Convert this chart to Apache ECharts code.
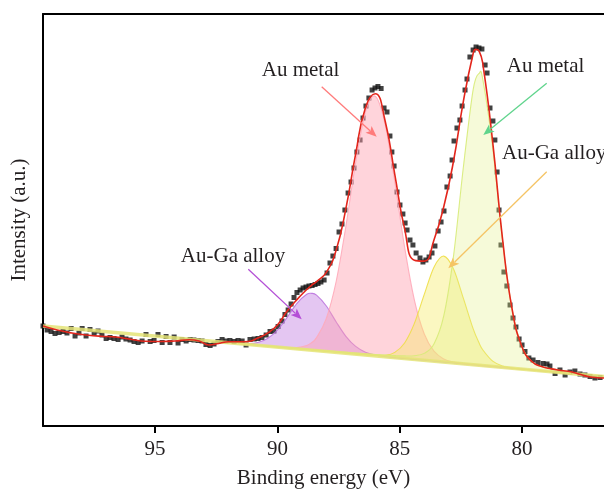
<!DOCTYPE html>
<html>
<head>
<meta charset="utf-8">
<script src="https://cdn.jsdelivr.net/npm/echarts@6/dist/echarts.min.js"></script>
<style>
  html, body { margin: 0; padding: 0; background: #ffffff; }
  #chart { width: 604px; height: 494px; }
</style>
</head>
<body>
<div id="chart"></div>
<script>
// Au 4f spectrum: measured points (binding energy in eV, intensity in a.u.)
const scanEnergy = [
  99.58, 99.41, 99.25, 99.09, 98.92, 98.76, 98.60, 98.43, 98.27, 98.11,
  97.98, 97.82, 97.66, 97.49, 97.33, 97.17, 97.00, 96.84, 96.68, 96.51,
  96.35, 96.19, 96.02, 95.86, 95.69, 95.53, 95.37, 95.20, 95.04, 94.88,
  94.71, 94.55, 94.39, 94.22, 94.06, 93.90, 93.73, 93.57, 93.41, 93.24,
  93.08, 92.92, 92.75, 92.59, 92.43, 92.26, 92.10, 91.94, 91.77, 91.61,
  91.44, 91.28, 91.12, 90.95, 90.79, 90.63, 90.46, 90.30, 90.14, 89.97,
  89.81, 89.69, 89.56, 89.44, 89.32, 89.20, 89.07, 88.95, 88.83, 88.71,
  88.58, 88.46, 88.34, 88.22, 88.09, 87.97, 87.85, 87.73, 87.60, 87.48,
  87.36, 87.24, 87.11, 86.99, 86.87, 86.75, 86.62, 86.50, 86.38, 86.26,
  86.13, 86.01, 85.89, 85.76, 85.64, 85.52, 85.40, 85.32, 85.23, 85.11,
  84.99, 84.87, 84.78, 84.70, 84.58, 84.46, 84.33, 84.17, 84.05, 83.93,
  83.80, 83.68, 83.56, 83.43, 83.31, 83.19, 83.07, 82.94, 82.86, 82.78,
  82.66, 82.54, 82.45, 82.33, 82.25, 82.13, 82.00, 81.88, 81.76, 81.64,
  81.51, 81.43, 81.31, 81.19, 81.11, 81.02, 80.94, 80.86, 80.74, 80.62,
  80.49, 80.37, 80.25, 80.12, 80.00, 79.88, 79.72, 79.55, 79.35, 79.14,
  78.98, 78.86, 78.65, 78.45, 78.24, 78.04, 77.84, 77.63, 77.43, 77.22,
  77.02, 76.81
];
const scanIntensity = [
  25.0, 24.0, 23.63, 23.13, 23.38, 23.63, 23.25, 24.38, 22.5, 23.25,
  24.38, 22.5, 24.13, 23.13, 23.75, 22.75, 21.88, 22.13, 21.88, 21.63,
  22.25, 21.75, 21.5, 21.13, 20.88, 21.25, 22.88, 21.13, 21.38, 22.88,
  20.88, 22.38, 20.88, 22.25, 20.75, 21.63, 21.25, 21.63, 21.5, 21.38,
  21.25, 20.38, 20.13, 20.5, 21.13, 21.63, 21.25, 21.38, 21.13, 21.38,
  21.25, 20.25, 21.63, 21.75, 21.88, 22.13, 22.75, 23.63, 23.75, 24.88,
  26.25, 27.88, 29.0, 30.5, 32.13, 33.38, 34.0, 34.5, 34.75, 35.0,
  35.13, 35.38, 35.63, 36.0, 36.5, 38.25, 40.75, 42.5, 44.38, 48.5,
  50.5, 54.0, 58.25, 61.0, 64.5, 68.5, 71.5, 77.0, 80.0, 82.0,
  84.0, 84.5, 84.88, 84.38, 79.5, 78.5, 72.5, 68.5, 65.0, 58.5,
  55.25, 53.0, 50.75, 49.0, 46.5, 45.25, 43.25, 42.0, 41.0, 41.5,
  42.25, 43.25, 45.0, 48.75, 51.0, 53.75, 59.75, 62.5, 66.5, 71.25,
  74.5, 76.5, 80.0, 84.0, 86.75, 92.25, 94.0, 94.75, 94.5, 94.25,
  90.25, 88.25, 79.5, 76.25, 71.5, 63.5, 54.0, 45.25, 38.5, 35.0,
  30.25, 27.0, 24.75, 21.75, 20.25, 18.63, 17.0, 16.5, 15.88, 15.63,
  15.5, 15.0, 13.13, 14.0, 12.75, 13.5, 13.75, 13.0, 12.75, 12.38,
  12.0, 12.13
];

// Fitted envelope (sum of components on the background)
const fitEnergy = [
  99.58, 99.0, 98.4, 97.8, 97.2, 96.6, 96.0, 95.4, 94.8, 94.2,
  93.6, 93.2, 92.8, 92.4, 92.0, 91.6, 91.2, 90.8, 90.4, 90.0,
  89.6, 89.2, 88.8, 88.6, 88.4, 88.0, 87.6, 87.2, 86.8, 86.4,
  86.0, 85.6, 85.2, 84.8, 84.4, 84.0, 83.6, 83.2, 82.8, 82.4,
  82.0, 81.9, 81.75, 81.6, 81.2, 80.8, 80.4, 80.0, 79.6, 79.2,
  78.8, 78.4, 78.0, 77.6, 77.2, 76.65
];
const fitIntensity = [
  25.0, 24.0, 23.25, 22.75, 22.43, 22.25, 21.68, 21.18, 21.13, 21.25,
  21.55, 21.25, 20.25, 20.63, 21.08, 21.08, 21.13, 22.0, 23.2, 25.25,
  28.75, 31.6, 34.12, 35.21, 36.1, 38.42, 43.91, 54.36, 68.05, 79.58,
  83.07, 76.36, 62.86, 49.27, 41.43, 41.21, 46.52, 54.8, 66.25, 81.1,
  93.07, 94.15, 93.67, 90.42, 71.04, 46.91, 29.01, 19.76, 16.12, 14.85,
  14.28, 13.89, 13.56, 12.85, 12.25, 12.0
];

// Linear background
const backgroundEnergy = [99.58, 76.65];
const backgroundIntensity = [25.0, 12.38];

// Fit components, given as height above the background on a common energy grid
const componentEnergy = [
  91.6, 91.2, 90.8, 90.4, 90.0, 89.6, 89.2, 88.8, 88.6, 88.4,
  88.0, 87.6, 87.2, 86.8, 86.4, 86.0, 85.6, 85.2, 84.8, 84.4,
  84.0, 83.6, 83.2, 82.8, 82.4, 82.0, 81.75, 81.6, 81.2, 80.8,
  80.4, 80.0, 79.6, 79.2, 78.8, 78.4, 78.0
];
const componentBackground = [
  20.61, 20.39, 20.17, 19.95, 19.73, 19.51, 19.29, 19.07, 18.96, 18.85,
  18.63, 18.41, 18.19, 17.97, 17.74, 17.52, 17.30, 17.08, 16.86, 16.64,
  16.42, 16.20, 15.98, 15.76, 15.54, 15.32, 15.18, 15.10, 14.88, 14.66,
  14.44, 14.22, 14.00, 13.78, 13.56, 13.34, 13.12
];
const auGaAlloy52 = [
  0.05, 0.22, 0.72, 1.92, 4.23, 7.66, 11.37, 13.85, 14.2, 13.85,
  11.37, 7.66, 4.23, 1.92, 0.72, 0.22, 0.05, 0.01, 0, 0,
  0, 0, 0, 0, 0, 0, 0, 0, 0, 0,
  0, 0, 0, 0, 0, 0, 0
];
const auMetal52 = [
  0, 0, 0, 0, 0.01, 0.07, 0.3, 1.07, 1.91, 3.25,
  8.26, 17.65, 31.72, 47.91, 60.82, 64.91, 58.24, 43.92, 27.85, 14.84,
  6.65, 2.5, 0.79, 0.21, 0.05, 0.01, 0, 0, 0, 0,
  0, 0, 0, 0, 0, 0, 0
];
const auGaAlloy72 = [
  0, 0, 0, 0, 0, 0, 0, 0, 0, 0,
  0, 0, 0, 0, 0.01, 0.07, 0.35, 1.33, 3.9, 9.01,
  16.41, 23.51, 26.5, 23.51, 16.41, 9.01, 5.49, 3.9, 1.33, 0.35,
  0.07, 0.01, 0, 0, 0, 0, 0
];
const auMetal72 = [
  0.07, 0.07, 0.08, 0.09, 0.10, 0.11, 0.12, 0.13, 0.14, 0.15,
  0.16, 0.19, 0.22, 0.25, 0.29, 0.35, 0.42, 0.52, 0.66, 0.94,
  1.73, 4.31, 11.53, 26.77, 49.1, 68.73, 73, 71.42, 54.83, 31.9,
  14.5, 5.53, 2.12, 1.07, 0.72, 0.55, 0.44
];

const energyTicks = [95, 90, 85, 80];

const SERIF = '"Liberation Serif", "Times New Roman", serif';
const INK = '#231f20';

const pairs = (xs, ys) => xs.map((x, i) => [x, ys[i]]);

// Smooth path (Catmull-Rom converted to cubic Bezier) through pixel points
function curvePath(pts) {
  let d = 'M' + pts[0][0] + ' ' + pts[0][1];
  for (let i = 0; i < pts.length - 1; i++) {
    const p0 = pts[Math.max(i - 1, 0)], p1 = pts[i], p2 = pts[i + 1], p3 = pts[Math.min(i + 2, pts.length - 1)];
    const c1x = p1[0] + (p2[0] - p0[0]) / 6, c1y = p1[1] + (p2[1] - p0[1]) / 6;
    const c2x = p2[0] - (p3[0] - p1[0]) / 6, c2y = p2[1] - (p3[1] - p1[1]) / 6;
    d += ' C' + c1x + ' ' + c1y + ' ' + c2x + ' ' + c2y + ' ' + p2[0] + ' ' + p2[1];
  }
  return d;
}

// One fit component: filled band between the background and background + component
function componentSeries(id, values, stroke, fill) {
  return {
    type: 'custom', name: id, coordinateSystem: 'cartesian2d',
    silent: true, z: 3, clip: true,
    data: [[componentEnergy[0], componentBackground[0]]],
    renderItem: function (params, api) {
      const top = componentEnergy.map((x, i) => api.coord([x, componentBackground[i] + values[i]]));
      const base = componentEnergy.map((x, i) => api.coord([x, componentBackground[i]]));
      const last = base[base.length - 1], first = base[0];
      const fillPath = curvePath(top) + ' L' + last[0] + ' ' + last[1] + ' L' + first[0] + ' ' + first[1] + ' Z';
      return {
        type: 'group',
        children: [
          { type: 'path', shape: { pathData: fillPath }, style: { fill: fill, stroke: null } },
          { type: 'path', shape: { pathData: curvePath(top) }, style: { fill: null, stroke: stroke, lineWidth: 1.1 } }
        ]
      };
    }
  };
}

// Arrow annotation drawn as a shaft plus a filled head
function arrow(x1, y1, x2, y2, color) {
  const len = Math.hypot(x2 - x1, y2 - y1);
  const ux = (x2 - x1) / len, uy = (y2 - y1) / len;
  const nx = -uy, ny = ux;
  const head = 11, half = 4.5;
  const bx = x2 - ux * head, by = y2 - uy * head;
  return [
    { type: 'line', silent: true, z: 50,
      shape: { x1: x1, y1: y1, x2: bx + ux * 2, y2: by + uy * 2 },
      style: { stroke: color, lineWidth: 1.3 } },
    { type: 'polygon', silent: true, z: 50,
      shape: { points: [[x2, y2], [bx + nx * half, by + ny * half], [bx + ux * 2.5, by + uy * 2.5], [bx - nx * half, by - ny * half]] },
      style: { fill: color } }
  ];
}

function label(text, x, y, align) {
  return {
    type: 'text', x: x, y: y, silent: true, z: 50,
    style: { text: text, fontSize: 21, fontFamily: SERIF, fill: INK, align: align || 'center', verticalAlign: 'middle' }
  };
}

const chart = echarts.init(document.getElementById('chart'), null, { renderer: 'canvas' });

chart.setOption({
  animation: false,
  backgroundColor: '#ffffff',
  grid: { left: 43, right: 0, top: 14, bottom: 68, containLabel: false },
  xAxis: [
    {
      type: 'value', position: 'bottom', inverse: true,
      min: 76.65, max: 99.58,
      name: 'Binding energy (eV)', nameLocation: 'middle', nameGap: 42,
      nameTextStyle: { fontSize: 21, fontFamily: SERIF, color: INK },
      axisLine: { show: true, onZero: false, lineStyle: { color: '#000', width: 2 } },
      axisTick: { show: true, inside: false, length: 7, customValues: energyTicks, lineStyle: { color: '#000', width: 2 } },
      axisLabel: { show: true, customValues: energyTicks, margin: 13, fontSize: 21, fontFamily: SERIF, color: INK },
      splitLine: { show: false }
    },
    {
      type: 'value', position: 'top', inverse: true,
      min: 76.65, max: 99.58,
      axisLine: { show: true, onZero: false, lineStyle: { color: '#000', width: 2 } },
      axisTick: { show: false }, axisLabel: { show: false }, splitLine: { show: false }
    }
  ],
  yAxis: {
    type: 'value', min: 0, max: 103,
    name: 'Intensity (a.u.)', nameLocation: 'middle', nameGap: 13,
    nameTextStyle: { fontSize: 21, fontFamily: SERIF, color: INK },
    axisLine: { show: true, onZero: false, lineStyle: { color: '#000', width: 2 } },
    axisTick: { show: false }, axisLabel: { show: false }, splitLine: { show: false }
  },
  series: [
    {
      type: 'scatter', name: 'data', data: pairs(scanEnergy, scanIntensity),
      symbol: 'rect', symbolSize: 5, silent: true, z: 2,
      itemStyle: { color: '#111111' }
    },
    {
      type: 'line', name: 'background', data: pairs(backgroundEnergy, backgroundIntensity),
      symbol: 'none', silent: true, z: 3,
      lineStyle: { color: 'rgba(228, 228, 120, 0.85)', width: 3.5 }
    },
    componentSeries('auGaAlloy52', auGaAlloy52, 'rgba(185, 110, 220, 0.85)', 'rgba(190, 120, 225, 0.42)'),
    componentSeries('auMetal52', auMetal52, 'rgba(255, 170, 185, 0.9)', 'rgba(255, 160, 175, 0.45)'),
    componentSeries('auGaAlloy72', auGaAlloy72, 'rgba(238, 222, 70, 0.9)', 'rgba(245, 235, 100, 0.40)'),
    componentSeries('auMetal72', auMetal72, 'rgba(215, 235, 120, 0.9)', 'rgba(225, 240, 130, 0.30)'),
    {
      type: 'line', name: 'fit', data: pairs(fitEnergy, fitIntensity),
      smooth: 0.5, symbol: 'none', silent: true, z: 5,
      lineStyle: { color: '#e3261c', width: 1.6 }
    }
  ],
  graphic: [
    label('Au metal', 300.5, 70.5),
    label('Au metal', 545.5, 66),
    label('Au-Ga alloy', 502, 153, 'left'),
    label('Au-Ga alloy', 233, 256),
    ...arrow(321.7, 86.7, 376.7, 136.7, '#ff7b7b'),
    ...arrow(546.7, 83.3, 483.3, 135, '#5fd48c'),
    ...arrow(546.7, 171.7, 448.3, 268.3, '#f5c465'),
    ...arrow(248.3, 269.3, 301.7, 319.3, '#b44fd6')
  ]
});
</script>
</body>
</html>
